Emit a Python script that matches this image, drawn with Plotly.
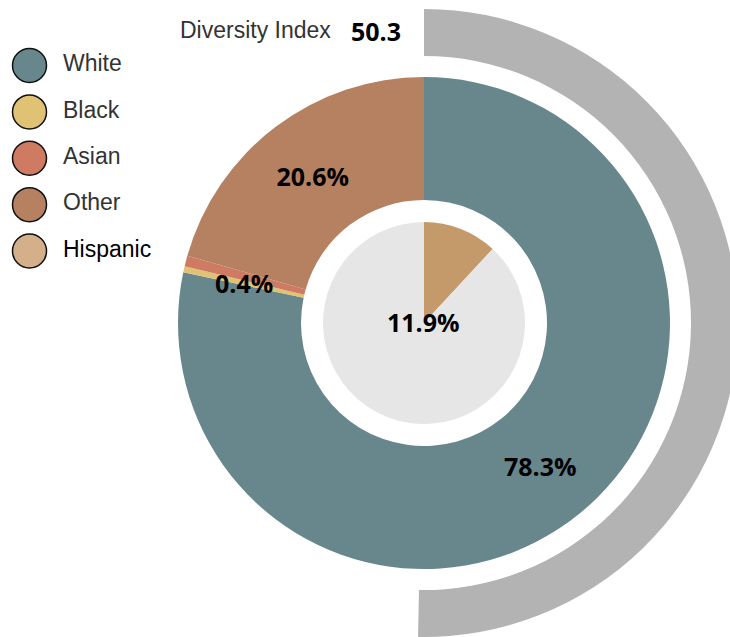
import math
import plotly.graph_objects as go

# ---- data ----
groups = ["White", "Black", "Asian", "Other"]
group_share = [78.3, 0.4, 0.7, 20.6]
group_labels = ["78.3%", "", "", "20.6%"]
group_colors = ["#68878d", "#dfc274", "#cf7b63", "#b58160"]
small_label_group = "Black"

hispanic_share = [11.9, 88.1]
hispanic_colors = ["#c49a6a", "#e6e6e6"]

diversity_index = 50.3

legend_names = ["White", "Black", "Asian", "Other", "Hispanic"]
legend_colors = ["#68878d", "#dfc274", "#cf7b63", "#b58160", "#d3b08a"]
legend_text_colors = ["#333333", "#333333", "#333333", "#333333", "#000000"]

# ---- geometry (pixels) ----
W, H = 760, 637
cx, cy = 424, 323
R_OUT, R_HOLE = 246, 123


def dom(r):
    return dict(x=[(cx - r) / W, (cx + r) / W], y=[1 - (cy + r) / H, 1 - (cy - r) / H])


fig = go.Figure()

# outer diversity arc
fig.add_trace(go.Pie(
    values=[diversity_index, 100 - diversity_index],
    marker=dict(colors=["#b3b3b3", "rgba(0,0,0,0)"], line=dict(width=0)),
    sort=False, direction="clockwise", hole=267 / 314,
    textinfo="none", hoverinfo="skip", showlegend=False,
    domain=dom(314),
))

# main donut
fig.add_trace(go.Pie(
    labels=groups, values=group_share, text=group_labels,
    marker=dict(colors=group_colors, line=dict(width=0)),
    sort=False, direction="clockwise", hole=R_HOLE / R_OUT,
    textinfo="text", textposition="inside", insidetextorientation="horizontal",
    textfont=dict(family="Open Sans", size=25, color="black", weight="bold"),
    hoverinfo="label+percent", showlegend=False,
    domain=dom(R_OUT),
))

# inner Hispanic pie
fig.add_trace(go.Pie(
    labels=["Hispanic", "Non-Hispanic"], values=hispanic_share,
    marker=dict(colors=hispanic_colors, line=dict(width=0)),
    sort=False, direction="clockwise",
    textinfo="none", hoverinfo="label+percent", showlegend=False,
    domain=dom(101),
))

# custom legend (circles + labels)
fig.add_trace(go.Scatter(
    x=[29.5] * len(legend_names), y=legend_names, mode="markers",
    marker=dict(size=34, color=legend_colors, line=dict(color="#111111", width=1.5)),
    hoverinfo="skip", showlegend=False,
))
fig.add_trace(go.Scatter(
    x=[63] * len(legend_names), y=legend_names, mode="text",
    text=legend_names, textposition="middle right",
    textfont=dict(family="Liberation Sans, Arial", size=23, color=legend_text_colors),
    hoverinfo="skip", showlegend=False,
))

# label for the thin slice, placed at the slice's mid-angle, mid-ring
i = groups.index(small_label_group)
start = sum(group_share[:i])
mid_frac = (start + group_share[i] / 2) / sum(group_share)
ang = 2 * math.pi * mid_frac
r_mid = (R_OUT + R_HOLE) / 2
lx = cx + r_mid * math.sin(ang)
ly = cy - r_mid * math.cos(ang)

bold = dict(family="Open Sans", size=25, color="black", weight="bold")

fig.update_layout(
    width=W, height=H, margin=dict(l=0, r=0, t=0, b=0),
    paper_bgcolor="white", plot_bgcolor="rgba(0,0,0,0)",
    uniformtext=dict(minsize=25, mode="show"),
    xaxis=dict(domain=[0, 0.3], range=[0, 0.3 * W], visible=False, fixedrange=True),
    yaxis=dict(domain=[0, 1], type="category", categoryorder="array", categoryarray=legend_names,
               range=[12.323, -1.413], autorange=False, visible=False, fixedrange=True),
    annotations=[
        dict(text="Diversity Index", x=178 / W, y=1 - 30 / H, xref="paper", yref="paper",
             xanchor="left", yanchor="middle", showarrow=False,
             font=dict(family="Liberation Sans, Arial", size=23, color="#333333")),
        dict(text=f"{diversity_index}", x=349 / W, y=1 - 31 / H, xref="paper", yref="paper",
             xanchor="left", yanchor="middle", showarrow=False, font=bold),
        dict(text=f"{hispanic_share[0]}%", x=cx / W, y=1 - (cy - 1) / H, xref="paper", yref="paper",
             xanchor="center", yanchor="middle", showarrow=False, font=bold),
        dict(text=f"{group_share[i]}%", x=lx / W, y=1 - ly / H, xref="paper", yref="paper",
             xanchor="center", yanchor="middle", showarrow=False, font=bold),
    ],
)

fig.write_html("out.html", config={"displayModeBar": False},
               post_script="document.body.style.margin='0';document.body.style.overflow='hidden';")
